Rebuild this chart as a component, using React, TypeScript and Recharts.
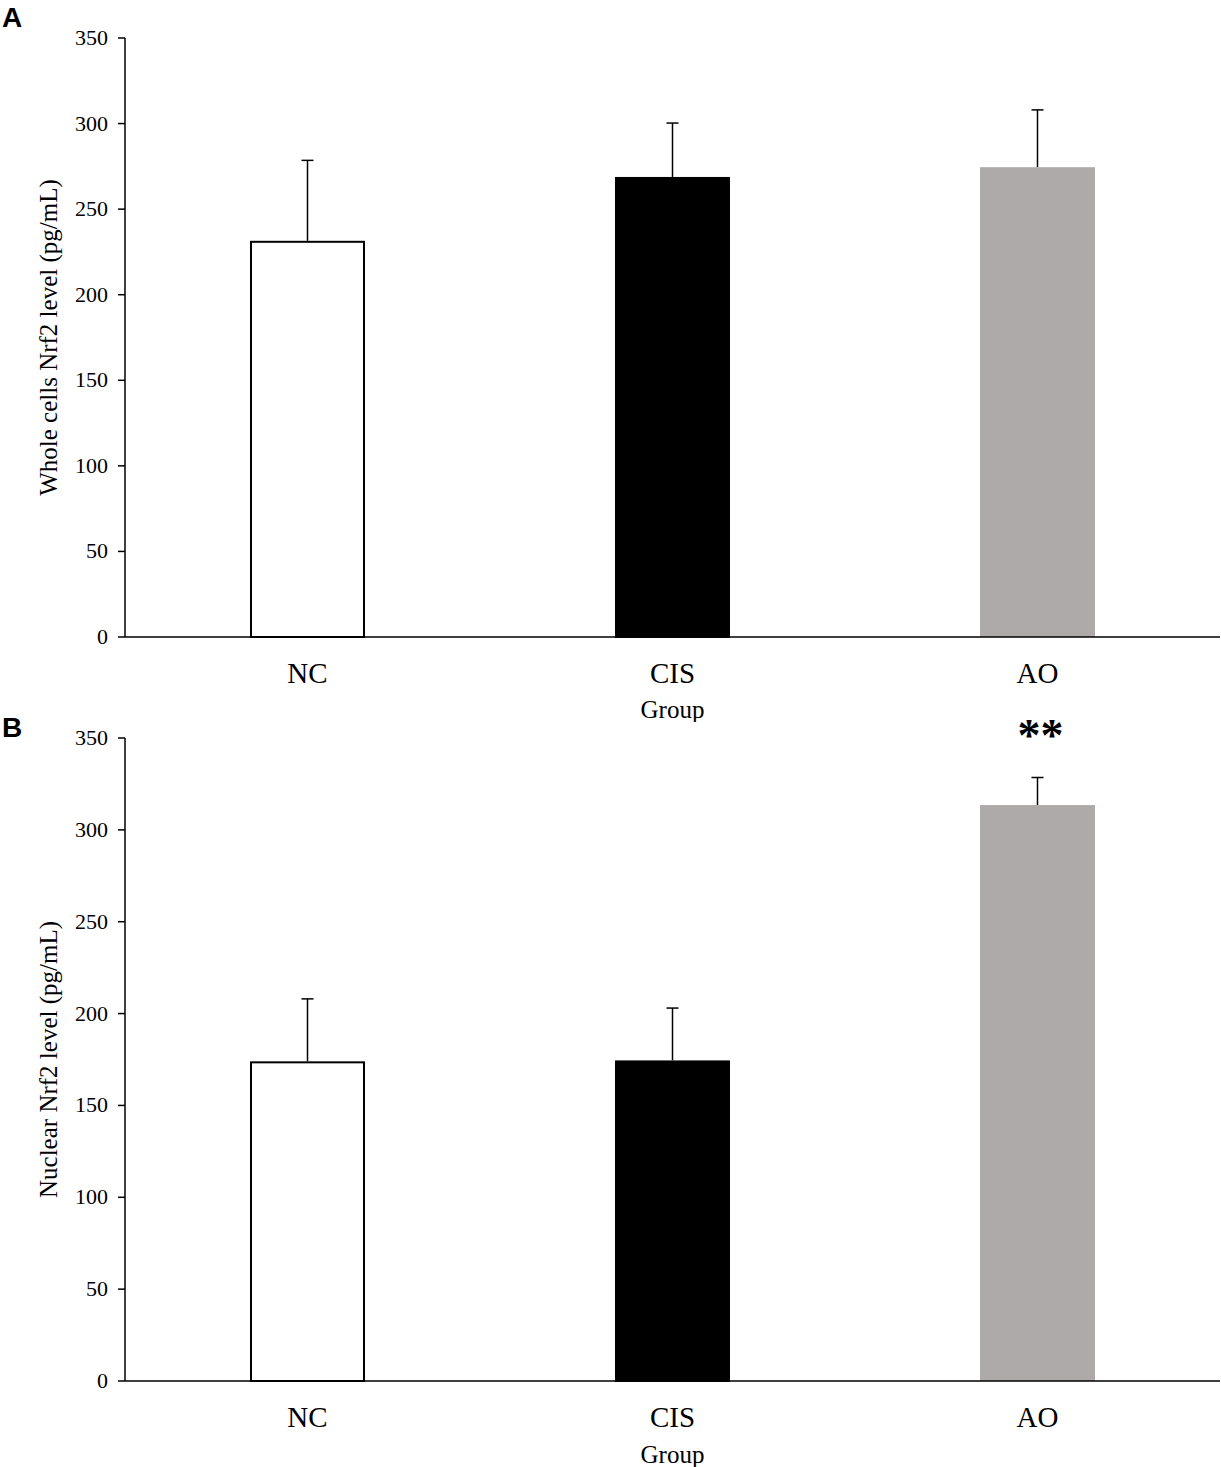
import React from 'react';
import { BarChart, Bar, XAxis, YAxis, Cell } from 'recharts';

const groups = ['NC', 'CIS', 'AO'];
const wholeMeans = [231.5, 268.8, 274.5];
const wholeErrors = [47, 31.5, 33.5];
const nuclearMeans = [174, 174.5, 313.5];
const nuclearErrors = [34, 28.5, 15];
const wholeMarks = ['', '', ''];
const nuclearMarks = ['', '', '**'];
const yTicks = [0, 50, 100, 150, 200, 250, 300, 350];
const barFills = ['#FFFFFF', '#000000', '#AEAAAA'];
const barStrokes = ['#000000', '#000000', 'none'];

const FONT = '"Liberation Serif", "Times New Roman", serif';

const build = (means: number[], errs: number[], marks: string[]) =>
  groups.map((g, i) => ({ group: g, mean: means[i], err: errs[i], mark: marks[i], idx: i }));

const BarWithError = (props: any) => {
  const { x, y, width, height, payload } = props;
  const idx = payload.idx;
  const pxPerUnit = height / payload.mean;
  const errTop = y - payload.err * pxPerUnit;
  const cx = x + width / 2;
  const sw = barStrokes[idx] === 'none' ? 0 : 2;
  return (
    <g>
      <line x1={cx} x2={cx} y1={y} y2={errTop} stroke="#000" strokeWidth={1.5} />
      <line x1={cx - 6} x2={cx + 6} y1={errTop} y2={errTop} stroke="#000" strokeWidth={1.5} />
      <rect
        x={x + sw / 2}
        y={y + sw / 2}
        width={width - sw}
        height={height - sw / 2}
        fill={barFills[idx]}
        stroke={barStrokes[idx]}
        strokeWidth={sw}
      />
      {payload.mark ? (
        <text x={cx + 3} y={errTop - 26} textAnchor="middle" fontFamily={FONT} fontSize={46} fontWeight="bold" fill="#000">
          {payload.mark}
        </text>
      ) : null}
    </g>
  );
};

const CatTick = (props: any) => {
  const { x, y, payload } = props;
  return (
    <text x={x} y={y + 44} textAnchor="middle" fontFamily={FONT} fontSize={29} fill="#000">
      {payload.value}
    </text>
  );
};

const ValTick = (props: any) => {
  const { x, y, payload } = props;
  return (
    <text x={x} y={y + 7} textAnchor="end" fontFamily={FONT} fontSize={22} fill="#000">
      {payload.value}
    </text>
  );
};

const Panel = ({ data, yLabel, height, xAxisHeight }: any) => (
  <BarChart
    width={1221}
    height={height}
    data={data}
    margin={{ top: 38, right: 1, bottom: 0, left: 0 }}
    barCategoryGap={0}
  >
    <XAxis
      dataKey="group"
      height={xAxisHeight}
      tickLine={false}
      axisLine={{ stroke: '#000', strokeWidth: 1.5 }}
      tick={<CatTick />}
      tickSize={0}
      interval={0}
      label={(p: any) => {
        const vb = p.viewBox;
        return (
          <text x={vb.x + vb.width / 2} y={vb.y + vb.height - 4} textAnchor="middle" fontFamily={FONT} fontSize={25} fill="#000">
            Group
          </text>
        );
      }}
    />
    <YAxis
      width={125}
      domain={[0, 350]}
      ticks={yTicks}
      interval={0}
      tickSize={7}
      tickMargin={10}
      tickLine={{ stroke: '#000', strokeWidth: 1.5 }}
      axisLine={{ stroke: '#000', strokeWidth: 1.5 }}
      tick={<ValTick />}
      label={(p: any) => {
        const vb = p.viewBox;
        const cx = 48;
        const cy = vb.y + vb.height / 2;
        return (
          <text x={cx} y={cy} transform={`rotate(-90, ${cx}, ${cy})`} textAnchor="middle" dominantBaseline="central" fontFamily={FONT} fontSize={25} fill="#000">
            {yLabel}
          </text>
        );
      }}
    />
    <Bar dataKey="mean" barSize={115} isAnimationActive={false} shape={<BarWithError />}>
      {data.map((d: any, i: number) => (
        <Cell key={i} fill={barFills[i]} />
      ))}
    </Bar>
  </BarChart>
);

export default function App() {
  const whole = build(wholeMeans, wholeErrors, wholeMarks);
  const nuclear = build(nuclearMeans, nuclearErrors, nuclearMarks);
  return (
    <div style={{ position: 'absolute', left: 0, top: 0, width: 1221, height: 1467, background: '#fff' }}>
      <div style={{ position: 'absolute', left: 0, top: 0 }}>
        <Panel data={whole} yLabel="Whole cells Nrf2 level (pg/mL)" height={722} xAxisHeight={85} />
      </div>
      <div style={{ position: 'absolute', left: 0, top: 700 }}>
        <Panel data={nuclear} yLabel="Nuclear Nrf2 level (pg/mL)" height={767} xAxisHeight={86} />
      </div>
      <div style={{ position: 'absolute', left: 2, top: 4, fontFamily: '"Liberation Sans", Arial, sans-serif', fontWeight: 'bold', fontSize: 28, lineHeight: '28px' }}>A</div>
      <div style={{ position: 'absolute', left: 2, top: 714, fontFamily: '"Liberation Sans", Arial, sans-serif', fontWeight: 'bold', fontSize: 28, lineHeight: '28px' }}>B</div>
    </div>
  );
}
